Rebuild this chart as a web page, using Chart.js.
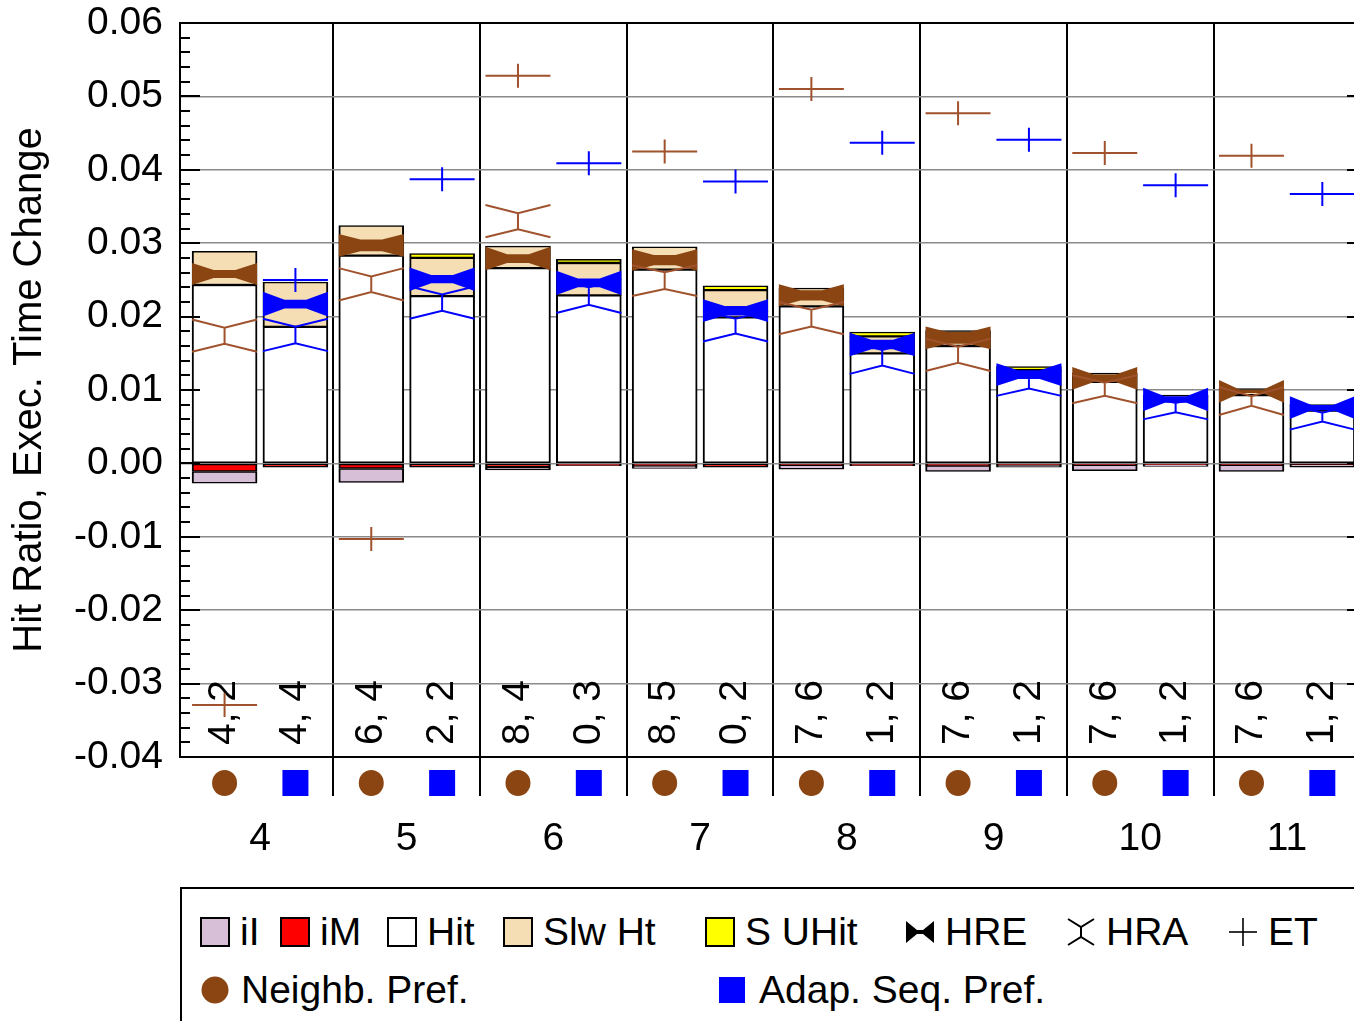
<!DOCTYPE html>
<html>
<head>
<meta charset="utf-8">
<script src="https://cdn.jsdelivr.net/npm/chart.js@4.4.1/dist/chart.umd.min.js"></script>
<style>
  html, body { margin: 0; padding: 0; background: #fff; overflow: hidden; width: 1354px; height: 1021px; }
  #wrap { position: relative; width: 1354px; height: 1021px; overflow: hidden; }
  #chart { position: absolute; left: 0; top: 0; }
  #legend { position: absolute; left: 180px; top: 887px; width: 1300px; height: 200px;
            border: 2px solid #000; box-sizing: border-box;
            font-family: 'Liberation Sans', Arial, sans-serif; font-size: 39px; color: #000; }
  .icon { position: absolute; display: block; line-height: 0; }
  .icon svg { display: block; }
  .txt { position: absolute; white-space: nowrap; line-height: 46px; height: 46px; }
</style>
</head>
<body>
<div id="wrap">
  <canvas id="chart" width="1372" height="880"></canvas>
  <div id="legend"></div>
</div>
<script>
// ---- data -------------------------------------------------------------
const groups = [4, 5, 6, 7, 8, 9, 10, 11];

// Neighb. Pref.
const nbIl     = [-0.0016, -0.0019, -0.0004, -0.0004, -0.0006, -0.0008, -0.0008, -0.0009];
const nbIm     = [-0.0011, -0.0007, -0.0005, -0.0003, -0.0002, -0.0003, -0.0002, -0.0002];
const nbHit    = [0.0243, 0.0283, 0.0266, 0.0264, 0.0214, 0.0160, 0.0111, 0.0093];
const nbSlw    = [0.0046, 0.0041, 0.0030, 0.0031, 0.0025, 0.0021, 0.0012, 0.0009];
const nbSuh    = [0, 0, 0, 0, 0, 0, 0, 0];
const nbHre    = [0.0258, 0.0297, 0.0279, 0.0277, 0.0229, 0.0171, 0.0116, 0.0098];
const nbHreOut = [0.0015, 0.00155, 0.0016, 0.00146, 0.0015, 0.00155, 0.00155, 0.00155];
const nbHreIn  = [0.00055, 0.0008, 0.0006, 0.0007, 0.0007, 0.0008, 0.0005, 0.0002];
const nbHra    = [0.0174, 0.0244, 0.0330, 0.0249, 0.0198, 0.0148, 0.0101, 0.0085];
const nbHraIn  = [0.0011, 0.00106, 0.0011, 0.00113, 0.00114, 0.0011, 0.0009, 0.00064];
const nbHraOut = [0.0022, 0.0022, 0.0022, 0.0021, 0.0022, 0.0022, 0.0019, 0.0019];
const nbEt     = [-0.0329, -0.0103, 0.0528, 0.0425, 0.0510, 0.0477, 0.0423, 0.0419];
const nbTags   = ['4, 2', '6, 4', '8, 4', '8, 5', '7, 6', '7, 6', '7, 6', '7, 6'];

// Adap. Seq. Pref.
const asIl     = [0, 0, 0, 0, 0, -0.0003, -0.0002, -0.0004];
const asIm     = [-0.0005, -0.0005, -0.0003, -0.0005, -0.0003, -0.0002, -0.0002, -0.0001];
const asHit    = [0.0186, 0.0228, 0.0229, 0.0199, 0.0150, 0.0119, 0.0085, 0.0072];
const asSlw    = [0.0061, 0.0052, 0.0044, 0.0037, 0.0023, 0.0008, 0.0008, 0.0008];
const asSuh    = [0, 0.0006, 0.0005, 0.0006, 0.0006, 0.0005, 0, 0];
const asHre    = [0.0217, 0.0251, 0.0246, 0.0208, 0.0162, 0.0121, 0.0087, 0.0076];
const asHreOut = [0.0017, 0.0016, 0.00165, 0.00155, 0.0016, 0.00155, 0.0016, 0.00155];
const asHreIn  = [0.0006, 0.00057, 0.0006, 0.00064, 0.00064, 0.0006, 0.00045, 0.00036];
const asHra    = [0.0175, 0.0219, 0.0228, 0.0187, 0.0144, 0.0109, 0.0076, 0.0063];
const asHraIn  = [0.00113, 0.0011, 0.0012, 0.0010, 0.00107, 0.0007, 0.00064, 0.0006];
const asHraOut = [0.0022, 0.0022, 0.0023, 0.0021, 0.0022, 0.0017, 0.0016, 0.0017];
const asEt     = [0.0250, 0.0387, 0.0409, 0.0384, 0.0437, 0.0441, 0.0379, 0.0367];
const asTags   = ['4, 4', '2, 2', '0, 3', '0, 2', '1, 2', '1, 2', '1, 2', '1, 2'];

const yTitle = 'Hit Ratio, Exec. Time Change';

// ---- styling / layout ---------------------------------------------------
const FONT = "'Liberation Sans', Arial, sans-serif";
const BROWN = '#8b4513';
const BROWN_LINE = '#a0522d';
const BLUE = '#0000ff';
const COL_IL = '#d8bfd8', COL_IM = '#ff0000', COL_HIT = '#ffffff', COL_SLW = '#f5deb3', COL_SUH = '#ffff00';
const BAR_SHIFT = 0.2415;   // offset of each bar from its group centre (x units)
const BAR_PX = 65;          // bar thickness in pixels
const X_MIN = 3.4547, X_MAX = 11.546;

Chart.defaults.font.family = FONT;
Chart.defaults.color = '#000';

const series = [
  { shift: -BAR_SHIFT, fill: BROWN, line: BROWN_LINE, hre: nbHre, hreOut: nbHreOut, hreIn: nbHreIn,
    hra: nbHra, hraIn: nbHraIn, hraOut: nbHraOut, et: nbEt, tags: nbTags, marker: 'circle' },
  { shift: BAR_SHIFT, fill: BLUE, line: BLUE, hre: asHre, hreOut: asHreOut, hreIn: asHreIn,
    hra: asHra, hraIn: asHraIn, hraOut: asHraOut, et: asEt, tags: asTags, marker: 'square' }
];

function stackPoints(nb, as) {
  const pts = [];
  groups.forEach((g, i) => {
    pts.push({ x: g - BAR_SHIFT, y: nb[i] });
    pts.push({ x: g + BAR_SHIFT, y: as[i] });
  });
  return pts;
}

const barStyle = {
  borderColor: '#000',
  borderWidth: { left: 2, right: 2, top: 1.5, bottom: 1.5 },
  borderSkipped: false,
  barThickness: BAR_PX,
  grouped: false
};

const datasets = [
  { label: 'iM', data: stackPoints(nbIm, asIm), backgroundColor: COL_IM, ...barStyle },
  { label: 'iI', data: stackPoints(nbIl, asIl), backgroundColor: COL_IL, ...barStyle },
  { label: 'Hit', data: stackPoints(nbHit, asHit), backgroundColor: COL_HIT, ...barStyle },
  { label: 'Slw Ht', data: stackPoints(nbSlw, asSlw), backgroundColor: COL_SLW, ...barStyle },
  { label: 'S UHit', data: stackPoints(nbSuh, asSuh), backgroundColor: COL_SUH, ...barStyle }
];

// Bowties (HRE), whisker shapes (HRA), crosses (ET), bar tags and the marker row
const overlay = {
  id: 'overlay',
  afterDatasetsDraw(chart) {
    const { ctx, chartArea: a, scales: { x, y } } = chart;
    const py = v => y.getPixelForValue(v);
    ctx.save();
    ctx.beginPath();
    ctx.rect(a.left, a.top, a.right - a.left, a.bottom - a.top);
    ctx.clip();

    // rotated tags near the bottom of the plot
    ctx.fillStyle = '#000';
    ctx.font = '39px ' + FONT;
    ctx.textAlign = 'left';
    ctx.textBaseline = 'middle';
    series.forEach(s => groups.forEach((g, i) => {
      const cx = x.getPixelForValue(g + s.shift);
      ctx.save();
      ctx.translate(cx, a.bottom - 12);
      ctx.rotate(-Math.PI / 2);
      ctx.fillText(s.tags[i], 0, 0);
      ctx.restore();
    }));

    series.forEach(s => groups.forEach((g, i) => {
      const cx = x.getPixelForValue(g + s.shift);
      const L = cx - BAR_PX / 2, R = cx + BAR_PX / 2, third = BAR_PX / 3;

      // HRE bowtie
      const c = s.hre[i], o = s.hreOut[i], n = s.hreIn[i];
      ctx.beginPath();
      ctx.moveTo(L, py(c + o));
      ctx.lineTo(L + third, py(c + n));
      ctx.lineTo(R - third, py(c + n));
      ctx.lineTo(R, py(c + o));
      ctx.lineTo(R, py(c - o));
      ctx.lineTo(R - third, py(c - n));
      ctx.lineTo(L + third, py(c - n));
      ctx.lineTo(L, py(c - o));
      ctx.closePath();
      ctx.fillStyle = s.fill;
      ctx.fill();

      // HRA whisker
      const h = s.hra[i], hi = s.hraIn[i], ho = s.hraOut[i];
      ctx.strokeStyle = s.line;
      ctx.lineWidth = 2;
      ctx.beginPath();
      ctx.moveTo(L, py(h + ho)); ctx.lineTo(cx, py(h + hi)); ctx.lineTo(R, py(h + ho));
      ctx.moveTo(cx, py(h + hi)); ctx.lineTo(cx, py(h - hi));
      ctx.moveTo(L, py(h - ho)); ctx.lineTo(cx, py(h - hi)); ctx.lineTo(R, py(h - ho));
      ctx.stroke();

      // ET cross
      const e = py(s.et[i]);
      ctx.beginPath();
      ctx.moveTo(L, e); ctx.lineTo(R, e);
      ctx.moveTo(cx, e - 12); ctx.lineTo(cx, e + 12);
      ctx.stroke();
    }));
    ctx.restore();
  },
  afterDraw(chart) {
    const { ctx, chartArea: a, scales: { x, y } } = chart;
    ctx.save();
    // frame: top and right edges
    ctx.strokeStyle = '#000';
    ctx.lineWidth = 2;
    ctx.beginPath();
    ctx.moveTo(a.left, a.top); ctx.lineTo(a.right, a.top); ctx.lineTo(a.right, a.bottom);
    ctx.stroke();
    // inward ticks on both sides: major every 0.01, minor every 0.002
    ctx.lineWidth = 2;
    for (let k = -20; k <= 30; k++) {
      const v = k * 0.002;
      const p = Math.round(y.getPixelForValue(v));
      const len = (k % 5 === 0) ? 20 : 10;
      ctx.beginPath();
      ctx.moveTo(a.left, p); ctx.lineTo(a.left + len, p);
      ctx.moveTo(a.right, p); ctx.lineTo(a.right - len, p);
      ctx.stroke();
    }
    // series markers under each bar
    const my = a.bottom + 26;
    series.forEach(s => groups.forEach(g => {
      const cx = x.getPixelForValue(g + s.shift);
      ctx.fillStyle = s.fill;
      ctx.beginPath();
      if (s.marker === 'circle') {
        ctx.ellipse(cx, my, 12.5, 13, 0, 0, Math.PI * 2);
      } else {
        ctx.rect(cx - 13, my - 13, 26, 26);
      }
      ctx.fill();
    }));
    ctx.restore();
  }
};

new Chart(document.getElementById('chart'), {
  type: 'bar',
  data: { datasets },
  plugins: [overlay],
  options: {
    responsive: false,
    animation: false,
    devicePixelRatio: 1,
    layout: { padding: { top: 23, right: 5, bottom: 0, left: 0 } },
    plugins: { legend: { display: false }, tooltip: { enabled: false } },
    scales: {
      x: {
        type: 'linear', position: 'bottom', weight: 0,
        min: X_MIN, max: X_MAX, stacked: true, offset: false,
        afterBuildTicks(s) { s.ticks = [4.5, 5.5, 6.5, 7.5, 8.5, 9.5, 10.5, 11.5].map(v => ({ value: v })); },
        ticks: { display: false },
        grid: { color: '#000', lineWidth: 2, drawTicks: true, tickLength: 39, tickColor: '#000', offset: false },
        border: { display: true, color: '#000', width: 2 },
        afterFit(s) { s.height = 39; s.paddingLeft = 0; s.paddingRight = 0; }
      },
      x2: {
        type: 'linear', position: 'bottom', weight: 1,
        min: X_MIN, max: X_MAX, offset: false,
        afterBuildTicks(s) { s.ticks = groups.map(v => ({ value: v })); },
        ticks: { color: '#000', font: { size: 39 }, padding: 20, autoSkip: false, maxRotation: 0,
                 callback: v => String(v) },
        grid: { display: false, drawTicks: false },
        border: { display: false },
        afterFit(s) { s.height = 84; s.paddingLeft = 0; s.paddingRight = 0; }
      },
      y: {
        min: -0.04, max: 0.06, stacked: true,
        ticks: { stepSize: 0.01, padding: 17, color: '#000', font: { size: 39 },
                 callback: v => (Math.round(v * 100) / 100).toFixed(2) },
        grid: { color: '#8a8a8a', lineWidth: 1.5, drawTicks: false },
        border: { display: true, color: '#000', width: 2 },
        title: { display: true, text: yTitle, color: '#000', font: { size: 40 }, padding: { top: 6, bottom: 0 } },
        afterFit(s) { s.width = 180; s.paddingTop = 0; s.paddingBottom = 0; }
      }
    }
  }
});

// ---- legend --------------------------------------------------------------
const legendItems = [
  { kind: 'swatch', color: COL_IL,  text: 'iI',     left: 200, row: 0 },
  { kind: 'swatch', color: COL_IM,  text: 'iM',     left: 280, row: 0 },
  { kind: 'swatch', color: COL_HIT, text: 'Hit',    left: 387, row: 0 },
  { kind: 'swatch', color: COL_SLW, text: 'Slw Ht', left: 503, row: 0 },
  { kind: 'swatch', color: COL_SUH, text: 'S UHit', left: 705, row: 0 },
  { kind: 'hre',    color: '#000',  text: 'HRE',    left: 905, row: 0 },
  { kind: 'hra',    color: '#000',  text: 'HRA',    left: 1066, row: 0 },
  { kind: 'et',     color: '#000',  text: 'ET',     left: 1228, row: 0 },
  { kind: 'dot',    color: BROWN,   text: 'Neighb. Pref.',    left: 201, row: 1 },
  { kind: 'square', color: BLUE,    text: 'Adap. Seq. Pref.', left: 719, row: 1 }
];
const rowCenters = [932, 990];
const iconSvg = {
  swatch: c => `<svg width="30" height="30"><rect x="1" y="1" width="28" height="28" fill="${c}" stroke="#000" stroke-width="2"/></svg>`,
  hre: c => `<svg width="30" height="30"><polygon points="1,4 12,13 18,13 29,4 29,26 18,17 12,17 1,26" fill="${c}"/></svg>`,
  hra: c => `<svg width="30" height="32" fill="none" stroke="${c}" stroke-width="2"><polyline points="2,3 15,11 28,3"/><line x1="15" y1="11" x2="15" y2="21"/><polyline points="2,29 15,21 28,29"/></svg>`,
  et: c => `<svg width="30" height="30" stroke="${c}" stroke-width="1.6"><line x1="1" y1="15" x2="29" y2="15"/><line x1="15" y1="1" x2="15" y2="29"/></svg>`,
  dot: c => `<svg width="28" height="28"><ellipse cx="14" cy="14" rx="13.5" ry="13.5" fill="${c}"/></svg>`,
  square: c => `<svg width="26" height="26"><rect width="26" height="26" fill="${c}"/></svg>`
};
const legendEl = document.getElementById('legend');
const originX = 182, originY = 889;
legendItems.forEach(it => {
  const cy = rowCenters[it.row];
  const icon = document.createElement('div');
  icon.className = 'icon';
  icon.innerHTML = iconSvg[it.kind](it.color);
  const sz = { swatch: 30, hre: 30, hra: 32, et: 30, dot: 28, square: 26 }[it.kind];
  icon.style.left = (it.left - originX) + 'px';
  icon.style.top = (cy - sz / 2 - originY) + 'px';
  icon.style.height = sz + 'px';
  legendEl.appendChild(icon);
  const t = document.createElement('span');
  t.className = 'txt';
  t.textContent = it.text;
  t.style.left = (it.left + 40 - originX) + 'px';
  t.style.top = (cy - 23 - originY) + 'px';
  legendEl.appendChild(t);
});
</script>
</body>
</html>
